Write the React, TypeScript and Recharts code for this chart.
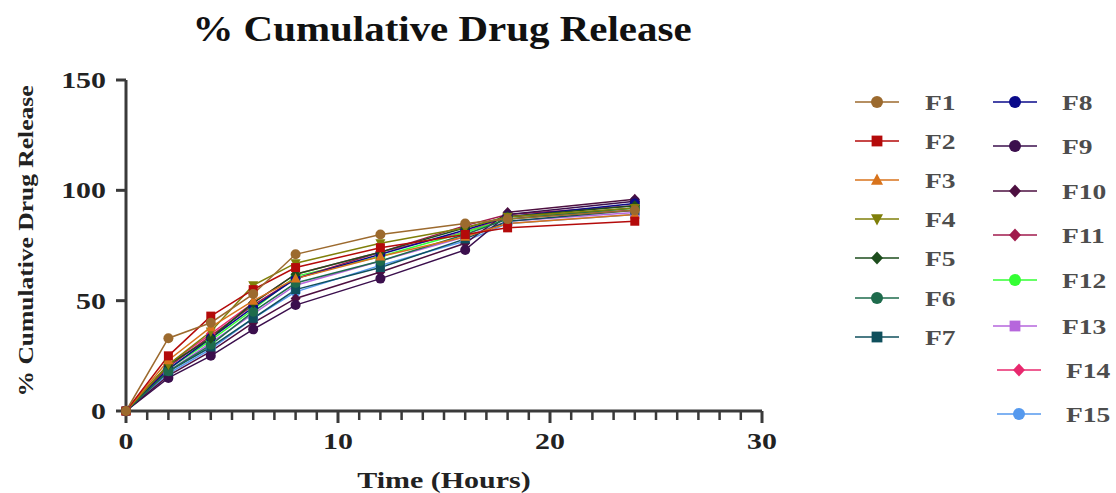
import { LineChart, Line, XAxis, YAxis } from "recharts";

const TIME = [0, 2, 4, 6, 8, 12, 16, 18, 24];
const F1 = [0, 33, 40, 53, 71, 80, 85, 87, 91];
const F2 = [0, 25, 43, 55, 65, 74, 80, 83, 86];
const F3 = [0, 23, 38, 50, 60, 70, 79, 85, 89];
const F4 = [0, 21, 36, 57, 67, 76, 83, 88, 92];
const F5 = [0, 21, 33, 49, 62, 72, 83, 88, 93];
const F6 = [0, 18, 30, 45, 58, 68, 80, 87, 92];
const F7 = [0, 18, 29, 42, 55, 65, 78, 86, 91];
const F8 = [0, 19, 33, 47, 60, 71, 82, 88, 94];
const F9 = [0, 15, 25, 37, 48, 60, 73, 89, 95];
const F10 = [0, 16, 27, 40, 51, 63, 76, 90, 96];
const F11 = [0, 20, 34, 48, 60, 72, 84, 89, 93];
const F12 = [0, 19, 32, 46, 61, 70, 81, 87, 92];
const F13 = [0, 18, 31, 44, 57, 68, 79, 86, 90];
const F14 = [0, 21, 35, 49, 62, 72, 81, 88, 91];
const F15 = [0, 17, 28, 42, 54, 66, 77, 85, 89];

const SERIES = [F1, F2, F3, F4, F5, F6, F7, F8, F9, F10, F11, F12, F13, F14, F15];
const NAMES = ["F1", "F2", "F3", "F4", "F5", "F6", "F7", "F8", "F9", "F10", "F11", "F12", "F13", "F14", "F15"];
const COLORS = [
  "#9c6a2e", "#b40a0a", "#d8731c", "#7f7f0a", "#1d4d1d",
  "#1e6b4c", "#0f4f5c", "#0a0a8a", "#3b0f4d", "#4d0f40",
  "#a01a4c", "#33ff33", "#b666dc", "#e8286e", "#5599ee",
];
const SHAPES = [
  "circle", "square", "triangle", "triangleDown", "diamond",
  "circle", "square", "circle", "circle", "diamond",
  "diamond", "circle", "square", "diamond", "circle",
];

const Y_TICKS = [0, 50, 100, 150];
const X_TICKS = [0, 10, 20, 30];
// small unlabelled ticks, one per hour
const X_MINOR = [1, 2, 3, 4, 5, 6, 7, 8, 9, 11, 12, 13, 14, 15, 16, 17, 18, 19, 21, 22, 23, 24, 25, 26, 27, 28, 29];

const data = TIME.map((t, i) => {
  const row: Record<string, number> = { time: t };
  NAMES.forEach((n, k) => (row[n] = SERIES[k][i]));
  return row;
});

const FONT = '"Liberation Serif", "Times New Roman", serif';
const AXIS = "#3a3a3a";

// plot box, shared by the chart margins and the minor tick overlay
const W = 1116;
const H = 493;
const PLOT_LEFT = 126;
const PLOT_RIGHT = 762;
const PLOT_TOP = 80;
const PLOT_BOTTOM = 411;
const X_MAX = 30;

const Marker = ({ cx, cy, shape, color, r }: any) => {
  if (cx == null || cy == null) return <g />;
  if (shape === "square")
    return <rect x={cx - r * 0.9} y={cy - r * 0.9} width={r * 1.8} height={r * 1.8} fill={color} />;
  if (shape === "triangle")
    return <polygon points={`${cx},${cy - r * 1.1} ${cx + r},${cy + r * 0.8} ${cx - r},${cy + r * 0.8}`} fill={color} />;
  if (shape === "triangleDown")
    return <polygon points={`${cx},${cy + r * 1.1} ${cx + r},${cy - r * 0.8} ${cx - r},${cy - r * 0.8}`} fill={color} />;
  if (shape === "diamond")
    return <polygon points={`${cx},${cy - r * 1.1} ${cx + r},${cy} ${cx},${cy + r * 1.1} ${cx - r},${cy}`} fill={color} />;
  return <circle cx={cx} cy={cy} r={r} fill={color} />;
};

const YTick = ({ x, y, payload }: any) => (
  <text transform={`translate(${x},${y}) scale(1.3,1)`} textAnchor="end" dy="0.35em"
    fontFamily={FONT} fontWeight="bold" fontSize={23} fill="#222">
    {payload.value}
  </text>
);

const XTick = ({ x, y, payload }: any) => (
  <text transform={`translate(${x},${y}) scale(1.3,1)`} textAnchor="middle" dy="0.71em"
    fontFamily={FONT} fontWeight="bold" fontSize={23} fill="#222">
    {payload.value}
  </text>
);

const COL1_Y = [102, 141, 180, 219, 258, 298, 337];
const COL2_Y = [102, 146, 191, 235, 280, 326, 370, 414];

const Overlay = () => (
  <svg width={W} height={H} style={{ position: "absolute", left: 0, top: 0, pointerEvents: "none" }}>
    {X_MINOR.map((h) => {
      const x = PLOT_LEFT + (h / X_MAX) * (PLOT_RIGHT - PLOT_LEFT);
      return <rect key={h} x={x - 1.25} y={PLOT_BOTTOM} width={2.5} height={9} fill={AXIS} />;
    })}
    <text transform="translate(442,41) scale(1.17,1)" textAnchor="middle"
      fontFamily={FONT} fontWeight="bold" fontSize={35} fill="#111">
      % Cumulative Drug Release
    </text>
    <text transform="translate(25,241) rotate(-90) scale(1.16,1)" textAnchor="middle" dy="0.35em"
      fontFamily={FONT} fontWeight="bold" fontSize={22} fill="#222">
      % Cumulative Drug Release
    </text>
    <text transform="translate(444,488) scale(1.25,1)" textAnchor="middle"
      fontFamily={FONT} fontWeight="bold" fontSize={24} fill="#222">
      Time (Hours)
    </text>
    {NAMES.map((n, i) => {
      const col2 = i >= 7;
      const y = col2 ? COL2_Y[i - 7] : COL1_Y[i];
      const shift = i >= 13 ? 4 : 0;
      const x0 = (col2 ? 993 : 855) + shift;
      const tx = (col2 ? 1062 : 925) + shift;
      return (
        <g key={n}>
          <line x1={x0} x2={x0 + 44} y1={y} y2={y} stroke={COLORS[i]} strokeWidth={1.5} />
          <Marker cx={x0 + 22} cy={y} shape={SHAPES[i]} color={COLORS[i]} r={6} />
          <text transform={`translate(${tx},${y}) scale(1.25,1)`} dy="0.35em"
            fontFamily={FONT} fontWeight="bold" fontSize={22} fill="#4d4d4d">
            {n}
          </text>
        </g>
      );
    })}
  </svg>
);

export default function App() {
  const order = NAMES.map((_, i) => i).reverse();
  return (
    <div style={{ position: "absolute", left: 0, top: 0, width: W, height: H, background: "#fff" }}>
      <LineChart width={W} height={H} data={data}
        margin={{ top: PLOT_TOP, right: W - PLOT_RIGHT, bottom: 0, left: PLOT_LEFT - 110 }}>
        <XAxis dataKey="time" type="number" domain={[0, X_MAX]} ticks={X_TICKS} interval={0}
          height={H - PLOT_BOTTOM} tickSize={12} tickMargin={10} tick={XTick}
          axisLine={{ stroke: AXIS, strokeWidth: 3 }} tickLine={{ stroke: AXIS, strokeWidth: 3 }} />
        <YAxis type="number" domain={[0, 150]} ticks={Y_TICKS} interval={0} width={110}
          tickSize={10} tickMargin={10} tick={YTick}
          axisLine={{ stroke: AXIS, strokeWidth: 3 }} tickLine={{ stroke: AXIS, strokeWidth: 3 }} />
        {order.map((i) => (
          <Line key={NAMES[i]} dataKey={NAMES[i]} stroke={COLORS[i]} strokeWidth={1.5}
            isAnimationActive={false}
            dot={(p: any) => (
              <Marker key={`${NAMES[i]}-${p.index}`} cx={p.cx} cy={p.cy} shape={SHAPES[i]} color={COLORS[i]} r={5} />
            )} />
        ))}
      </LineChart>
      <Overlay />
    </div>
  );
}
